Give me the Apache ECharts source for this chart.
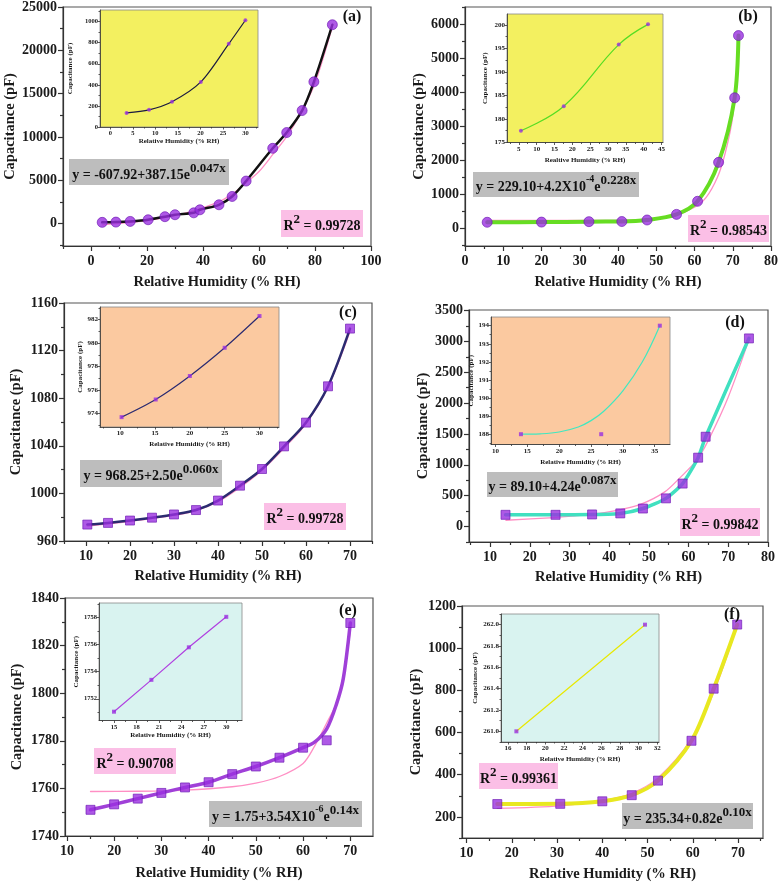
<!DOCTYPE html>
<html><head><meta charset="utf-8">
<script src="https://cdn.jsdelivr.net/npm/echarts@6/dist/echarts.min.js"></script>
<style>html,body{margin:0;padding:0;background:#fff}#c{width:781px;height:883px}</style>
</head><body><div id="c"></div>
<script>
// ---------------- DATA ----------------
const xName = 'Relative Humidity (% RH)';
const yName = 'Capacitance (pF)';
const xNameB = 'Realtive Humidity (% RH)';

// (a)
const aX = [4.0, 8.9, 14.0, 20.4, 26.4, 30.0, 36.7, 38.9, 45.7, 50.4, 55.4, 64.9, 69.9, 75.4, 79.6, 86.2];
const aY = [130, 160, 240, 430, 785, 1010, 1230, 1580, 2160, 3120, 4900, 8680, 10500, 13040, 16360, 22950];
const aFitX = [4, 15, 25, 35, 45, 50, 55, 60, 65, 70, 75, 80, 86.2];
const aFitY = [-150, 150, 600, 1300, 2400, 3300, 4600, 6000, 8000, 10100, 12800, 16200, 22700];
const aInX = [3.6, 8.6, 13.7, 20.1, 26.3, 30.0];
const aInY = [134, 163, 240, 428, 789, 1013];
const aXTicks = [0, 20, 40, 60, 80, 100];
const aYTicks = [0, 5000, 10000, 15000, 20000, 25000];
const aInXTicks = [0, 5, 10, 15, 20, 25, 30];
const aInYTicks = [0, 200, 400, 600, 800, 1000];

// (b)
const bX = [5.8, 20.0, 32.4, 41.0, 47.6, 55.3, 60.8, 66.3, 70.5, 71.5];
const bY = [178, 183, 196, 200, 245, 410, 795, 1940, 3840, 5670];
const bFitX = [5.8, 20, 35, 45, 50, 55, 60, 63, 66, 68, 70, 71.5];
const bFitY = [230, 230, 235, 250, 290, 380, 620, 900, 1500, 2200, 3300, 5500];
const bInX = [5.6, 17.6, 33.0, 41.2];
const bInY = [177.5, 182.7, 195.8, 200.1];
const bXTicks = [0, 10, 20, 30, 40, 50, 60, 70, 80];
const bYTicks = [0, 1000, 2000, 3000, 4000, 5000, 6000];
const bInXTicks = [5, 10, 15, 20, 25, 30, 35, 40, 45];
const bInYTicks = [175, 180, 185, 190, 195, 200];

// (c)
const cX = [10.3, 15, 20, 25, 30, 35, 40, 45, 50, 55, 60, 65, 70];
const cY = [973.8, 975.2, 977.2, 979.6, 982.3, 986, 994, 1006.5, 1020.5, 1039.5, 1059.5, 1090, 1138.5];
const cFitX = [10.3, 20, 30, 35, 40, 45, 50, 55, 60, 65, 70];
const cFitY = [972.5, 976.5, 981.5, 985.5, 993, 1005, 1019.5, 1038, 1058.5, 1089, 1136];
const cInX = [10.2, 15.1, 20, 25, 30];
const cInY = [973.7, 975.2, 977.2, 979.6, 982.3];
const cXTicks = [10, 20, 30, 40, 50, 60, 70];
const cYTicks = [960, 1000, 1040, 1080, 1120, 1160];
const cInXTicks = [10, 15, 20, 25, 30];
const cInYTicks = [974, 976, 978, 980, 982];

// (d)
const dX = [13.9, 26.5, 35.7, 42.8, 48.5, 54.3, 58.5, 62.4, 64.3, 75.2];
const dY = [188, 188, 194, 211, 290, 455, 695, 1115, 1455, 3050];
const dFitX = [14, 25, 35, 42, 48, 54, 58, 62, 65, 70, 75.2];
const dFitY = [100, 140, 190, 260, 360, 560, 800, 1070, 1400, 2100, 3030];
const dInX = [14.0, 26.6, 35.8];
const dInY = [188, 188, 194];
const dInCurveX = [14, 17, 20, 23, 25, 27, 30, 33, 35.8];
const dInCurveY = [188, 188.02, 188.12, 188.4, 188.75, 189.27, 190.4, 191.96, 194];
const dXTicks = [10, 20, 30, 40, 50, 60, 70, 80];
const dYTicks = [0, 500, 1000, 1500, 2000, 2500, 3000, 3500];
const dInXTicks = [10, 15, 20, 25, 30, 35];
const dInYTicks = [188, 189, 190, 191, 192, 193, 194];

// (e)
const eX = [15, 20, 25, 30, 35, 40, 45, 50, 55, 60, 65, 70];
const eY = [1751, 1753.3, 1755.7, 1758.1, 1760.4, 1762.6, 1766, 1769.2, 1772.9, 1777.1, 1780.2, 1829.5];
const eLineX = [15, 20, 25, 30, 35, 40, 45, 50, 55, 60, 62.5, 65, 67, 68.5, 70];
const eLineY = [1751, 1753.3, 1755.7, 1758.1, 1760.4, 1762.6, 1766, 1769.2, 1772.9, 1777.1, 1779.5, 1785, 1795, 1806, 1829.5];
const eFitX = [15, 25, 35, 45, 50, 55, 60, 62.5, 65, 67.5, 70];
const eFitY = [1758.7, 1758.8, 1759.3, 1760.7, 1762.2, 1765, 1770.5, 1778, 1787.5, 1798, 1826];
const eInX = [15, 20, 25, 30];
const eInY = [1751.05, 1753.4, 1755.8, 1758.05];
const eXTicks = [10, 20, 30, 40, 50, 60, 70];
const eYTicks = [1740, 1760, 1780, 1800, 1820, 1840];
const eInXTicks = [15, 18, 21, 24, 27, 30];
const eInYTicks = [1752, 1754, 1756, 1758];

// (f)
const fX = [16.8, 30.7, 40.0, 46.5, 52.3, 59.7, 64.6, 69.8];
const fY = [261, 262, 274, 303, 372, 561, 808, 1112];
const fFitX = [16.8, 30.7, 40, 46.5, 52.3, 59.7, 64.6, 69.8];
const fFitY = [240, 252, 277, 312, 385, 570, 790, 1105];
const fInX = [16.9, 30.7];
const fInY = [261.0, 262.0];
const fXTicks = [10, 20, 30, 40, 50, 60, 70];
const fYTicks = [200, 400, 600, 800, 1000, 1200];
const fInXTicks = [16, 18, 20, 22, 24, 26, 28, 30, 32];
const fInYTicks = [261.0, 261.2, 261.4, 261.6, 261.8, 262.0];

// ---------------- BUILD ----------------
const SERIF = 'Liberation Serif';
const PURPLE = '#9a2fe0';
const PINK = '#ff8fc4';
const option = { animation: false, grid: [], xAxis: [], yAxis: [], series: [], graphic: [] };

function zip(xs, ys) { return xs.map((x, i) => [x, ys[i]]); }
function mids(ticks, min, max) {
  const step = ticks[1] - ticks[0]; const out = [];
  for (let i = -1; i < ticks.length; i++) {
    const v = ticks[0] + (i + 0.5) * step;
    if (v >= min - 1e-9 && v <= max + 1e-9) out.push(+v.toFixed(6));
  }
  return out;
}
function addGrid(g, bg, border, bw) {
  option.grid.push({ left: g[0], top: g[1], width: g[2], height: g[3], show: true,
    backgroundColor: bg, borderColor: border, borderWidth: bw });
  return option.grid.length - 1;
}
function addAxes(gi, a) {
  const lc = '#333';
  const lbl = (ticks, dec, margin) => ({ customValues: ticks, margin: margin, fontFamily: SERIF,
    fontWeight: 'bold', fontSize: a.fs, color: '#1a1a1a', formatter: v => Number(v).toFixed(dec) });
  const nameStyle = { fontFamily: SERIF, fontWeight: 'bold', fontSize: a.nameFs, color: '#1a1a1a' };
  const xi = option.xAxis.length, yi = option.yAxis.length;
  option.xAxis.push({ type: 'value', gridIndex: gi, min: a.xMin, max: a.xMax, position: 'bottom',
    name: a.xName, nameLocation: 'middle', nameGap: a.xGap, nameTextStyle: nameStyle,
    axisLine: { show: true, onZero: false, lineStyle: { color: lc, width: a.lw } },
    axisTick: { show: true, inside: false, length: a.tickLen, customValues: a.xTicks, lineStyle: { color: lc, width: a.lw } },
    axisLabel: lbl(a.xTicks, a.xDec || 0, a.xMargin), splitLine: { show: false } });
  option.xAxis.push({ type: 'value', gridIndex: gi, min: a.xMin, max: a.xMax, position: 'bottom',
    axisLine: { show: false, onZero: false },
    axisTick: { show: true, inside: false, length: a.minorLen, customValues: mids(a.xTicks, a.xMin, a.xMax), lineStyle: { color: lc, width: a.lw } },
    axisLabel: { show: false }, splitLine: { show: false } });
  option.yAxis.push({ type: 'value', gridIndex: gi, min: a.yMin, max: a.yMax, position: 'left',
    name: a.yName, nameLocation: 'middle', nameGap: a.yGap, nameTextStyle: nameStyle,
    axisLine: { show: true, onZero: false, lineStyle: { color: lc, width: a.lw } },
    axisTick: { show: true, inside: false, length: a.tickLen, customValues: a.yTicks, lineStyle: { color: lc, width: a.lw } },
    axisLabel: lbl(a.yTicks, a.yDec || 0, a.yMargin), splitLine: { show: false } });
  option.yAxis.push({ type: 'value', gridIndex: gi, min: a.yMin, max: a.yMax, position: 'left',
    axisLine: { show: false, onZero: false },
    axisTick: { show: true, inside: false, length: a.minorLen, customValues: mids(a.yTicks, a.yMin, a.yMax), lineStyle: { color: lc, width: a.lw } },
    axisLabel: { show: false }, splitLine: { show: false } });
  return { xi: xi, yi: yi };
}
function addLine(ax, xs, ys, color, width, z, smooth) {
  option.series.push({ type: 'line', xAxisIndex: ax.xi, yAxisIndex: ax.yi, data: zip(xs, ys),
    showSymbol: false, symbol: 'none', smooth: smooth,
    lineStyle: { color: color, width: width, cap: 'round', join: 'round' }, z: z, silent: true });
}
function addPts(ax, xs, ys, symbol, size, z) {
  option.series.push({ type: 'scatter', xAxisIndex: ax.xi, yAxisIndex: ax.yi, data: zip(xs, ys),
    symbol: symbol, symbolSize: size, itemStyle: { color: PURPLE, borderColor: '#6a14b0', borderWidth: size > 6 ? 0.8 : 0 },
    z: z, silent: true });
}
const richBase = { fill: '#111', fontFamily: SERIF, fontWeight: 'bold', fontSize: 14, lineHeight: 26, verticalAlign: 'middle' };
const richSup = { fill: '#111', fontFamily: SERIF, fontWeight: 'bold', fontSize: 13, lineHeight: 10, verticalAlign: 'top' };
const richSup2 = { fill: '#111', fontFamily: SERIF, fontWeight: 'bold', fontSize: 10, lineHeight: 10, verticalAlign: 'top' };
function addBox(r, color, text) {
  option.graphic.push({ type: 'rect', shape: { x: r[0], y: r[1], width: r[2], height: r[3] }, style: { fill: color }, z: 90, silent: true });
  option.graphic.push({ type: 'text', x: r[0] + r[2] / 2, y: r[1] + r[3] / 2 + 3, z: 100, silent: true,
    style: { text: text, rich: { b: richBase, s: richSup, t: richSup2 }, align: 'center', verticalAlign: 'middle', fill: '#111' } });
}
function addTitle(x, y, t) {
  option.graphic.push({ type: 'text', x: x, y: y, z: 100, silent: true,
    style: { text: t, fontFamily: SERIF, fontWeight: 'bold', fontSize: 16, fill: '#111', align: 'center', verticalAlign: 'middle' } });
}
const MAIN = { fs: 14, nameFs: 14.5, tickLen: 5, minorLen: 3, lw: 1.2, xMargin: 8, yMargin: 6, xName: xName, yName: yName };
const INSET = { fs: 7, nameFs: 7, tickLen: 2.5, minorLen: 1.5, lw: 0.8, xMargin: 3, yMargin: 2, xName: xName, yName: yName };
const GRIDB = '#555', INB = '#888';
const YEL = '#f3f060', PEACH = '#fbc9a0', CYAN = '#d9f3f0';
const GRAY = '#bdbdbd', PINKBOX = '#fbbfe6';

// ----- (a)
let g = addGrid([63, 7, 308, 239], 'transparent', GRIDB, 1.2);
let ax = addAxes(g, Object.assign({}, MAIN, { xMin: -10, xMax: 100, yMin: -2600, yMax: 25000, xTicks: aXTicks, yTicks: aYTicks, xGap: 29, yGap: 45 }));
addLine(ax, aFitX, aFitY, PINK, 1.3, 2, 0.3);
addLine(ax, aX, aY, '#111', 2.5, 3, 0.3);
addPts(ax, aX, aY, 'circle', 10, 4);
g = addGrid([100, 10, 158, 117], YEL, INB, 0.8);
ax = addAxes(g, Object.assign({}, INSET, { fs: 6.5, xMin: -2.3, xMax: 32.8, yMin: 0, yMax: 1110, xTicks: aInXTicks, yTicks: aInYTicks, xGap: 10, yGap: 26 }));
addLine(ax, aInX, aInY, '#1a1a40', 1.2, 5, 0.3);
addPts(ax, aInX, aInY, 'circle', 4, 6);
addTitle(352, 17, '(a)');
addBox([69, 159, 160, 26], GRAY, '{b|y = -607.92+387.15e}{s|0.047x}');
addBox([281, 210, 82, 27], PINKBOX, '{b|R}{s|2}{b| = 0.99728}');

// ----- (b)
g = addGrid([465, 7, 307, 239], 'transparent', GRIDB, 1.2);
ax = addAxes(g, Object.assign({}, MAIN, { xMin: 0, xMax: 80, yMin: -520, yMax: 6510, xTicks: bXTicks, yTicks: bYTicks, xGap: 29, yGap: 35 }));
addLine(ax, bFitX, bFitY, PINK, 1.3, 2, 0.3);
addLine(ax, bX, bY, '#66dd22', 4, 3, 0.3);
addPts(ax, bX, bY, 'circle', 10, 4);
g = addGrid([507, 14, 156, 128.5], YEL, INB, 0.8);
ax = addAxes(g, Object.assign({}, INSET, { xName: xNameB, xMin: 1.7, xMax: 45.4, yMin: 175, yMax: 202.3, xTicks: bInXTicks, yTicks: bInYTicks, xGap: 14, yGap: 18 }));
addLine(ax, bInX, bInY, '#55dd22', 1.2, 5, 0.4);
addPts(ax, bInX, bInY, 'circle', 4, 6);
addTitle(748, 17, '(b)');
addBox([473, 172, 166, 25], GRAY, '{b|y = 229.10+4.2X10}{t|-4}{b|e}{s|0.228x}');
addBox([688, 215, 81, 27], PINKBOX, '{b|R}{s|2}{b| = 0.98543}');

// ----- (c)
g = addGrid([64, 303, 308, 238], 'transparent', GRIDB, 1.2);
ax = addAxes(g, Object.assign({}, MAIN, { xMin: 5, xMax: 75, yMin: 960, yMax: 1160, xTicks: cXTicks, yTicks: cYTicks, xGap: 28, yGap: 40 }));
addLine(ax, cFitX, cFitY, PINK, 1.3, 2, 0.3);
addLine(ax, cX, cY, '#2b2b70', 2.5, 3, 0.3);
addPts(ax, cX, cY, 'rect', 9, 4);
g = addGrid([100, 307, 179, 120], PEACH, INB, 0.8);
ax = addAxes(g, Object.assign({}, INSET, { xMin: 7.1, xMax: 32.8, yMin: 972.86, yMax: 983.07, xTicks: cInXTicks, yTicks: cInYTicks, xGap: 14, yGap: 13 }));
addLine(ax, cInX, cInY, '#2a2a70', 1.2, 5, 0.3);
addPts(ax, cInX, cInY, 'rect', 4, 6);
addTitle(348, 313, '(c)');
addBox([80, 460, 142, 27], GRAY, '{b|y = 968.25+2.50e}{s|0.060x}');
addBox([264, 503, 82, 27], PINKBOX, '{b|R}{s|2}{b| = 0.99728}');

// ----- (d)
g = addGrid([469, 310, 299, 232], 'transparent', GRIDB, 1.2);
ax = addAxes(g, Object.assign({}, MAIN, { xMin: 4.7, xMax: 80, yMin: -253, yMax: 3511, xTicks: dXTicks, yTicks: dYTicks, xGap: 28, yGap: 38 }));
addLine(ax, dFitX, dFitY, PINK, 1.3, 2, 0.3);
addLine(ax, dX, dY, '#40e0c0', 3.5, 3, 0.2);
addPts(ax, dX, dY, 'rect', 9, 4);
g = addGrid([491, 317, 179, 127.5], PEACH, INB, 0.8);
ax = addAxes(g, Object.assign({}, INSET, { xMin: 9.3, xMax: 37.4, yMin: 187.43, yMax: 194.48, xTicks: dInXTicks, yTicks: dInYTicks, xGap: 14, yGap: 12 }));
addLine(ax, dInCurveX, dInCurveY, '#40e8c0', 1.2, 5, 0.4);
addPts(ax, dInX, dInY, 'rect', 4, 6);
addTitle(735, 323, '(d)');
addBox([487, 472, 131, 25], GRAY, '{b|y = 89.10+4.24e}{s|0.087x}');
addBox([680, 508, 80, 28], PINKBOX, '{b|R}{s|2}{b| = 0.99842}');

// ----- (e)
g = addGrid([65, 598, 308, 238], 'transparent', GRIDB, 1.2);
ax = addAxes(g, Object.assign({}, MAIN, { xMin: 9.6, xMax: 74.8, yMin: 1740, yMax: 1840, xTicks: eXTicks, yTicks: eYTicks, xGap: 30, yGap: 40 }));
addLine(ax, eFitX, eFitY, PINK, 1.3, 2, 0.3);
addLine(ax, eLineX, eLineY, '#a040d8', 3.5, 3, 0.3);
addPts(ax, eX, eY, 'rect', 9, 4);
g = addGrid([99, 603, 143, 117.5], CYAN, INB, 0.8);
ax = addAxes(g, Object.assign({}, INSET, { fs: 6.5, xMin: 13, xMax: 32.1, yMin: 1750.4, yMax: 1759.07, xTicks: eInXTicks, yTicks: eInYTicks, xGap: 10, yGap: 15 }));
addLine(ax, eInX, eInY, '#b040e0', 1.2, 5, 0);
addPts(ax, eInX, eInY, 'rect', 4, 6);
addTitle(348, 611, '(e)');
addBox([94, 748, 82, 26], PINKBOX, '{b|R}{s|2}{b| = 0.90708}');
addBox([209, 801, 153, 26], GRAY, '{b|y = 1.75+3.54X10}{t|-6}{b|e}{s|0.14x}');

// ----- (f)
g = addGrid([462, 606, 301, 232], 'transparent', GRIDB, 1.2);
ax = addAxes(g, Object.assign({}, MAIN, { xMin: 9, xMax: 75.5, yMin: 100, yMax: 1200, xTicks: fXTicks, yTicks: fYTicks, xGap: 29, yGap: 36 }));
addLine(ax, fFitX, fFitY, PINK, 1.3, 2, 0.3);
addLine(ax, fX, fY, '#e8e820', 4, 3, 0.3);
addPts(ax, fX, fY, 'rect', 9, 4);
g = addGrid([501, 614, 158, 128], CYAN, INB, 0.8);
ax = addAxes(g, Object.assign({}, INSET, { xMin: 15.25, xMax: 32.2, yMin: 260.9, yMax: 262.1, xTicks: fInXTicks, yTicks: fInYTicks, yDec: 1, xGap: 14, yGap: 22 }));
addLine(ax, fInX, fInY, '#e8e800', 1.2, 5, 0);
addPts(ax, fInX, fInY, 'rect', 4, 6);
addTitle(732, 615, '(f)');
addBox([479, 763, 79, 26], PINKBOX, '{b|R}{s|2}{b| = 0.99361}');
addBox([622, 803, 131, 26], GRAY, '{b|y = 235.34+0.82e}{s|0.10x}');

const chart = echarts.init(document.getElementById('c'), null, { renderer: 'canvas' });
chart.setOption(option);
</script></body></html>
